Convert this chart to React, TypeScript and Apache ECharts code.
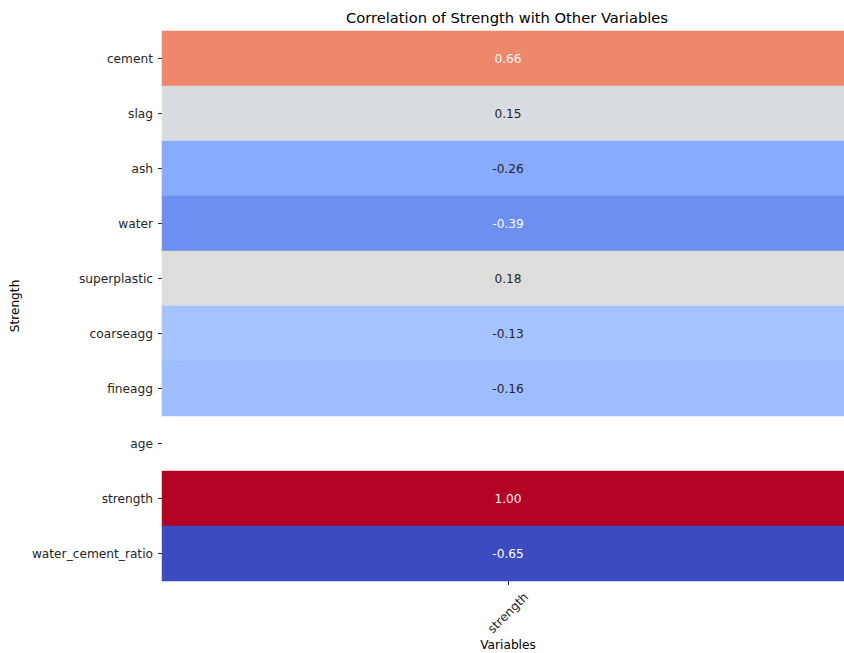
import React, { useEffect, useRef } from "react";
import * as echarts from "echarts";

const rows = ["cement", "slag", "ash", "water", "superplastic", "coarseagg", "fineagg", "age", "strength", "water_cement_ratio"];
const columns = ["strength"];
const values: (number | null)[] = [0.66, 0.15, -0.26, -0.39, 0.18, -0.13, -0.16, null, 1.0, -0.65];
const vmin = -0.65;
const vmax = 1.0;

const coolwarm: number[][] = [
  [59, 76, 192], [68, 90, 204], [77, 104, 215], [87, 117, 225], [98, 130, 234], [108, 142, 241],
  [119, 154, 247], [130, 165, 251], [141, 176, 254], [152, 185, 255], [163, 194, 255], [174, 201, 253],
  [184, 208, 249], [194, 213, 244], [204, 217, 238], [213, 219, 230], [221, 221, 221], [229, 216, 209],
  [236, 211, 197], [241, 204, 185], [245, 196, 173], [247, 187, 160], [247, 177, 148], [247, 166, 135],
  [244, 154, 123], [241, 141, 111], [236, 127, 99], [229, 112, 88], [222, 96, 77], [213, 80, 66],
  [203, 62, 56], [192, 40, 47], [180, 4, 38],
];
const toHex = (c: number[]) => "#" + c.map((x) => Math.round(x).toString(16).padStart(2, "0")).join("");
const paletteHex = coolwarm.map(toHex);

function rgbAt(v: number): number[] {
  const t = Math.min(1, Math.max(0, (v - vmin) / (vmax - vmin)));
  const pos = t * (coolwarm.length - 1);
  const i = Math.min(coolwarm.length - 2, Math.floor(pos));
  const f = pos - i;
  return coolwarm[i].map((a, k) => a + (coolwarm[i + 1][k] - a) * f);
}
function labelColor(v: number): string {
  const lin = rgbAt(v).map((c) => {
    const s = c / 255;
    return s <= 0.03928 ? s / 12.92 : Math.pow((s + 0.055) / 1.055, 2.4);
  });
  const lum = 0.2126 * lin[0] + 0.7152 * lin[1] + 0.0722 * lin[2];
  return lum > 0.408 ? "#262626" : "#ffffff";
}

const FONT = "DejaVu Sans";

export default function App() {
  const ref = useRef<HTMLDivElement>(null);
  useEffect(() => {
    if (!ref.current) return;
    const chart = echarts.init(ref.current, null, { renderer: "svg" });
    const data = values.map((v, i) =>
      v === null
        ? { value: [0, i, "-"] }
        : { value: [0, i, v], label: { color: labelColor(v) } }
    );
    chart.setOption({
      animation: false,
      backgroundColor: "#ffffff",
      textStyle: { fontFamily: FONT },
      title: {
        text: "Correlation of Strength with Other Variables",
        left: 507,
        textAlign: "center",
        top: 10,
        padding: 0,
        textStyle: { fontFamily: FONT, fontSize: 14.7, fontWeight: "normal", color: "#000000" },
      },
      grid: { left: 162, top: 31, width: 692, height: 550, containLabel: false, outerBoundsMode: "none" },
      xAxis: {
        type: "category",
        data: columns,
        position: "bottom",
        name: "Variables",
        nameLocation: "middle",
        nameGap: 57,
        nameMoveOverlap: false,
        nameTextStyle: { fontFamily: FONT, fontSize: 12.2, lineHeight: 13, color: "#000000" },
        axisLine: { show: false },
        axisTick: { show: true, alignWithLabel: true, length: 4, lineStyle: { color: "#262626", width: 1 } },
        axisLabel: {
          rotate: 45,
          align: "center",
          verticalAlign: "middle",
          margin: 32,
          fontFamily: FONT,
          fontSize: 12.2,
          color: "#262626",
        },
        splitLine: { show: false },
      },
      yAxis: {
        type: "category",
        data: rows,
        inverse: true,
        name: "Strength",
        nameLocation: "middle",
        nameGap: 135,
        nameTextStyle: { fontFamily: FONT, fontSize: 12.2, color: "#000000" },
        axisLine: { show: false },
        axisTick: { show: true, alignWithLabel: true, length: 4, lineStyle: { color: "#262626", width: 1 } },
        axisLabel: { margin: 9, fontFamily: FONT, fontSize: 12.2, color: "#262626" },
        splitLine: { show: false },
      },
      visualMap: {
        show: false,
        type: "continuous",
        min: vmin,
        max: vmax,
        dimension: 2,
        inRange: { color: paletteHex },
      },
      series: [
        {
          type: "heatmap",
          data,
          label: {
            show: true,
            fontFamily: FONT,
            fontSize: 12.2,
            formatter: (p: any) => {
              const v = p.value[2];
              return typeof v === "number" ? v.toFixed(2) : "";
            },
          },
          itemStyle: { borderWidth: 0 },
          emphasis: { disabled: true },
        },
      ],
    });
    return () => chart.dispose();
  }, []);
  return (
    <div
      ref={ref}
      style={{ position: "absolute", left: 0, top: 0, width: 844, height: 653, overflow: "hidden" }}
    />
  );
}
